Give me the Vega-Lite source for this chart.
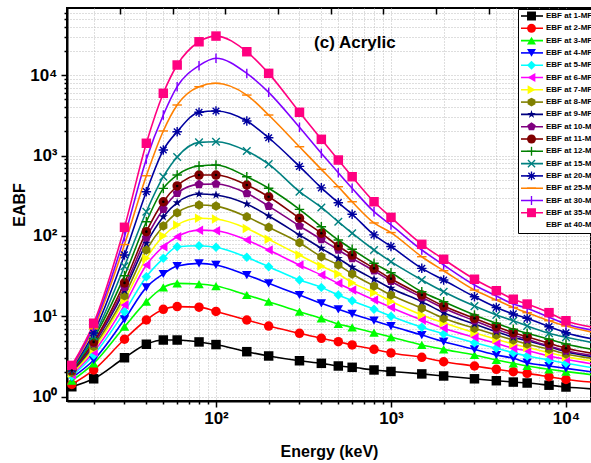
{
"$schema":"https://vega.github.io/schema/vega-lite/v6.json",
"autosize":{"type":"none"},
"padding":{"left":67,"top":8,"right":0,"bottom":62},
"width":524,"height":393,
"config":{"font":"Liberation Sans","view":{"stroke":"black","strokeWidth":2}},
"datasets":{
"t":[{"e":622,"v":25300,"label":"(c) Acrylic"}],
"d":[
{"m":"1","e":15,"v":1.33},{"m":"1","e":20,"v":1.67},{"m":"1","e":30,"v":3.05},{"m":"1","e":40,"v":4.49},{"m":"1","e":50,"v":5.07},{"m":"1","e":60,"v":5.07},{"m":"1","e":80,"v":4.8},{"m":"1","e":100,"v":4.45},{"m":"1","e":150,"v":3.63},{"m":"1","e":200,"v":3.21},{"m":"1","e":300,"v":2.8},{"m":"1","e":400,"v":2.6},{"m":"1","e":500,"v":2.41},{"m":"1","e":600,"v":2.32},{"m":"1","e":800,"v":2.15},{"m":"1","e":1000,"v":2.06},{"m":"1","e":1500,"v":1.92},{"m":"1","e":2000,"v":1.81},{"m":"1","e":3000,"v":1.67},{"m":"1","e":4000,"v":1.58},{"m":"1","e":5000,"v":1.52},{"m":"1","e":6000,"v":1.48},{"m":"1","e":8000,"v":1.39},{"m":"1","e":10000,"v":1.32},{"m":"1","e":15000,"v":1.24},
{"m":"2","e":15,"v":1.42},{"m":"2","e":20,"v":2.15},{"m":"2","e":30,"v":5.18},{"m":"2","e":40,"v":9.0},{"m":"2","e":50,"v":12.2},{"m":"2","e":60,"v":13.2},{"m":"2","e":80,"v":13.0},{"m":"2","e":100,"v":11.5},{"m":"2","e":150,"v":9.0},{"m":"2","e":200,"v":7.57},{"m":"2","e":300,"v":6.15},{"m":"2","e":400,"v":5.32},{"m":"2","e":500,"v":4.83},{"m":"2","e":600,"v":4.4},{"m":"2","e":800,"v":3.88},{"m":"2","e":1000,"v":3.5},{"m":"2","e":1500,"v":3.09},{"m":"2","e":2000,"v":2.72},{"m":"2","e":3000,"v":2.41},{"m":"2","e":4000,"v":2.19},{"m":"2","e":5000,"v":2.05},{"m":"2","e":6000,"v":1.95},{"m":"2","e":8000,"v":1.77},{"m":"2","e":10000,"v":1.64},{"m":"2","e":15000,"v":1.5},
{"m":"3","e":15,"v":1.58},{"m":"3","e":20,"v":2.6},{"m":"3","e":30,"v":7.43},{"m":"3","e":40,"v":15.2},{"m":"3","e":50,"v":22.9},{"m":"3","e":60,"v":25.7},{"m":"3","e":80,"v":25.2},{"m":"3","e":100,"v":23.8},{"m":"3","e":150,"v":18.4},{"m":"3","e":200,"v":15.2},{"m":"3","e":300,"v":11.4},{"m":"3","e":400,"v":9.44},{"m":"3","e":500,"v":8.02},{"m":"3","e":600,"v":7.3},{"m":"3","e":800,"v":6.25},{"m":"3","e":1000,"v":5.52},{"m":"3","e":1500,"v":4.4},{"m":"3","e":2000,"v":3.88},{"m":"3","e":3000,"v":3.3},{"m":"3","e":4000,"v":2.86},{"m":"3","e":5000,"v":2.6},{"m":"3","e":6000,"v":2.41},{"m":"3","e":8000,"v":2.19},{"m":"3","e":10000,"v":2.05},{"m":"3","e":15000,"v":1.85},
{"m":"4","e":15,"v":1.72},{"m":"4","e":20,"v":2.86},{"m":"4","e":30,"v":9.18},{"m":"4","e":40,"v":22.9},{"m":"4","e":50,"v":33.6},{"m":"4","e":60,"v":42.2},{"m":"4","e":80,"v":45.6},{"m":"4","e":100,"v":43.5},{"m":"4","e":150,"v":32.6},{"m":"4","e":200,"v":25.7},{"m":"4","e":300,"v":18.4},{"m":"4","e":400,"v":14.5},{"m":"4","e":500,"v":12.2},{"m":"4","e":600,"v":10.7},{"m":"4","e":800,"v":8.81},{"m":"4","e":1000,"v":7.57},{"m":"4","e":1500,"v":5.85},{"m":"4","e":2000,"v":4.83},{"m":"4","e":3000,"v":3.88},{"m":"4","e":4000,"v":3.3},{"m":"4","e":5000,"v":3.0},{"m":"4","e":6000,"v":2.65},{"m":"4","e":8000,"v":2.41},{"m":"4","e":10000,"v":2.25},{"m":"4","e":15000,"v":2.0},
{"m":"5","e":15,"v":1.8},{"m":"5","e":20,"v":3.3},{"m":"5","e":30,"v":11.4},{"m":"5","e":40,"v":31.1},{"m":"5","e":50,"v":52.6},{"m":"5","e":60,"v":73.4},{"m":"5","e":80,"v":75.5},{"m":"5","e":100,"v":72.1},{"m":"5","e":150,"v":54.2},{"m":"5","e":200,"v":41.4},{"m":"5","e":300,"v":28.3},{"m":"5","e":400,"v":22.9},{"m":"5","e":500,"v":18.4},{"m":"5","e":600,"v":15.6},{"m":"5","e":800,"v":12.2},{"m":"5","e":1000,"v":10.0},{"m":"5","e":1500,"v":7.3},{"m":"5","e":2000,"v":6.03},{"m":"5","e":3000,"v":4.7},{"m":"5","e":4000,"v":4.0},{"m":"5","e":5000,"v":3.53},{"m":"5","e":6000,"v":3.21},{"m":"5","e":8000,"v":2.86},{"m":"5","e":10000,"v":2.6},{"m":"5","e":15000,"v":2.25},
{"m":"6","e":15,"v":1.88},{"m":"6","e":20,"v":3.6},{"m":"6","e":30,"v":13.8},{"m":"6","e":40,"v":43.5},{"m":"6","e":50,"v":73.4},{"m":"6","e":60,"v":97.7},{"m":"6","e":80,"v":118},{"m":"6","e":100,"v":116},{"m":"6","e":150,"v":88.9},{"m":"6","e":200,"v":66.8},{"m":"6","e":300,"v":43.5},{"m":"6","e":400,"v":32.6},{"m":"6","e":500,"v":25.7},{"m":"6","e":600,"v":21.2},{"m":"6","e":800,"v":16.0},{"m":"6","e":1000,"v":12.9},{"m":"6","e":1500,"v":9.0},{"m":"6","e":2000,"v":7.1},{"m":"6","e":3000,"v":5.48},{"m":"6","e":4000,"v":4.61},{"m":"6","e":5000,"v":4.0},{"m":"6","e":6000,"v":3.73},{"m":"6","e":8000,"v":3.21},{"m":"6","e":10000,"v":2.92},{"m":"6","e":15000,"v":2.5},
{"m":"7","e":15,"v":1.95},{"m":"7","e":20,"v":3.9},{"m":"7","e":30,"v":16},{"m":"7","e":40,"v":52.6},{"m":"7","e":50,"v":99.7},{"m":"7","e":60,"v":137},{"m":"7","e":80,"v":166},{"m":"7","e":100,"v":162},{"m":"7","e":150,"v":124},{"m":"7","e":200,"v":90.7},{"m":"7","e":300,"v":57.8},{"m":"7","e":400,"v":42.2},{"m":"7","e":500,"v":33.6},{"m":"7","e":600,"v":26.2},{"m":"7","e":800,"v":19.7},{"m":"7","e":1000,"v":15.4},{"m":"7","e":1500,"v":10.4},{"m":"7","e":2000,"v":8.32},{"m":"7","e":3000,"v":6.25},{"m":"7","e":4000,"v":5.18},{"m":"7","e":5000,"v":4.52},{"m":"7","e":6000,"v":4.11},{"m":"7","e":8000,"v":3.53},{"m":"7","e":10000,"v":3.15},{"m":"7","e":15000,"v":2.75},
{"m":"8","e":15,"v":2.0},{"m":"8","e":20,"v":4.2},{"m":"8","e":30,"v":18},{"m":"8","e":40,"v":66.8},{"m":"8","e":50,"v":133},{"m":"8","e":60,"v":194},{"m":"8","e":80,"v":242},{"m":"8","e":100,"v":235},{"m":"8","e":150,"v":173},{"m":"8","e":200,"v":128},{"m":"8","e":300,"v":82.3},{"m":"8","e":400,"v":55.1},{"m":"8","e":500,"v":43.5},{"m":"8","e":600,"v":33.6},{"m":"8","e":800,"v":23.8},{"m":"8","e":1000,"v":18.4},{"m":"8","e":1500,"v":12.6},{"m":"8","e":2000,"v":9.44},{"m":"8","e":3000,"v":7.1},{"m":"8","e":4000,"v":5.85},{"m":"8","e":5000,"v":5.07},{"m":"8","e":6000,"v":4.52},{"m":"8","e":8000,"v":3.88},{"m":"8","e":10000,"v":3.4},{"m":"8","e":15000,"v":2.95},
{"m":"9","e":15,"v":2.05},{"m":"9","e":20,"v":4.5},{"m":"9","e":30,"v":21},{"m":"9","e":40,"v":81},{"m":"9","e":50,"v":173},{"m":"9","e":60,"v":259},{"m":"9","e":80,"v":332},{"m":"9","e":100,"v":323},{"m":"9","e":150,"v":249},{"m":"9","e":200,"v":177},{"m":"9","e":300,"v":103},{"m":"9","e":400,"v":70.1},{"m":"9","e":500,"v":52.6},{"m":"9","e":600,"v":40.7},{"m":"9","e":800,"v":28.9},{"m":"9","e":1000,"v":22.3},{"m":"9","e":1500,"v":15.2},{"m":"9","e":2000,"v":11.1},{"m":"9","e":3000,"v":8.02},{"m":"9","e":4000,"v":6.43},{"m":"9","e":5000,"v":5.48},{"m":"9","e":6000,"v":4.97},{"m":"9","e":8000,"v":4.19},{"m":"9","e":10000,"v":3.63},{"m":"9","e":15000,"v":3.1},
{"m":"10","e":15,"v":2.1},{"m":"10","e":20,"v":4.6},{"m":"10","e":30,"v":23},{"m":"10","e":40,"v":95},{"m":"10","e":50,"v":215},{"m":"10","e":60,"v":340},{"m":"10","e":80,"v":438},{"m":"10","e":100,"v":442},{"m":"10","e":150,"v":339},{"m":"10","e":200,"v":235},{"m":"10","e":300,"v":133},{"m":"10","e":400,"v":90.7},{"m":"10","e":500,"v":66.8},{"m":"10","e":600,"v":52.6},{"m":"10","e":800,"v":36.9},{"m":"10","e":1000,"v":27.3},{"m":"10","e":1500,"v":17.2},{"m":"10","e":2000,"v":12.6},{"m":"10","e":3000,"v":8.81},{"m":"10","e":4000,"v":6.89},{"m":"10","e":5000,"v":5.85},{"m":"10","e":6000,"v":5.18},{"m":"10","e":8000,"v":4.27},{"m":"10","e":10000,"v":3.73},{"m":"10","e":15000,"v":3.2},
{"m":"11","e":15,"v":2.12},{"m":"11","e":20,"v":4.8},{"m":"11","e":30,"v":26},{"m":"11","e":40,"v":113},{"m":"11","e":50,"v":266},{"m":"11","e":60,"v":418},{"m":"11","e":80,"v":572},{"m":"11","e":100,"v":572},{"m":"11","e":150,"v":430},{"m":"11","e":200,"v":307},{"m":"11","e":300,"v":166},{"m":"11","e":400,"v":108},{"m":"11","e":500,"v":74.9},{"m":"11","e":600,"v":57.8},{"m":"11","e":800,"v":39.5},{"m":"11","e":1000,"v":29.3},{"m":"11","e":1500,"v":18.4},{"m":"11","e":2000,"v":13.4},{"m":"11","e":3000,"v":9.44},{"m":"11","e":4000,"v":7.43},{"m":"11","e":5000,"v":6.25},{"m":"11","e":6000,"v":5.57},{"m":"11","e":8000,"v":4.61},{"m":"11","e":10000,"v":4.0},{"m":"11","e":15000,"v":3.4},
{"m":"12","e":15,"v":2.15},{"m":"12","e":20,"v":5.3},{"m":"12","e":30,"v":32},{"m":"12","e":40,"v":150},{"m":"12","e":50,"v":390},{"m":"12","e":60,"v":572},{"m":"12","e":80,"v":740},{"m":"12","e":100,"v":762},{"m":"12","e":150,"v":545},{"m":"12","e":200,"v":391},{"m":"12","e":300,"v":214},{"m":"12","e":400,"v":130},{"m":"12","e":500,"v":88.9},{"m":"12","e":600,"v":68.1},{"m":"12","e":800,"v":45.6},{"m":"12","e":1000,"v":34.8},{"m":"12","e":1500,"v":20.2},{"m":"12","e":2000,"v":15.2},{"m":"12","e":3000,"v":10.4},{"m":"12","e":4000,"v":8.19},{"m":"12","e":5000,"v":6.89},{"m":"12","e":6000,"v":6.15},{"m":"12","e":8000,"v":5.18},{"m":"12","e":10000,"v":4.52},{"m":"12","e":15000,"v":3.8},
{"m":"15","e":15,"v":2.2},{"m":"15","e":20,"v":5.6},{"m":"15","e":30,"v":42},{"m":"15","e":40,"v":200},{"m":"15","e":50,"v":545},{"m":"15","e":60,"v":960},{"m":"15","e":80,"v":1459},{"m":"15","e":100,"v":1485},{"m":"15","e":150,"v":1137},{"m":"15","e":200,"v":781},{"m":"15","e":300,"v":355},{"m":"15","e":400,"v":226},{"m":"15","e":500,"v":150},{"m":"15","e":600,"v":108},{"m":"15","e":800,"v":66.8},{"m":"15","e":1000,"v":47.8},{"m":"15","e":1500,"v":28.3},{"m":"15","e":2000,"v":20.2},{"m":"15","e":3000,"v":13.4},{"m":"15","e":4000,"v":10.4},{"m":"15","e":5000,"v":8.81},{"m":"15","e":6000,"v":7.57},{"m":"15","e":8000,"v":6.15},{"m":"15","e":10000,"v":5.48},{"m":"15","e":15000,"v":4.6},
{"m":"20","e":15,"v":2.25},{"m":"20","e":20,"v":6.2},{"m":"20","e":30,"v":58},{"m":"20","e":40,"v":355},{"m":"20","e":50,"v":1170},{"m":"20","e":60,"v":1977},{"m":"20","e":80,"v":3445},{"m":"20","e":100,"v":3575},{"m":"20","e":150,"v":2685},{"m":"20","e":200,"v":1664},{"m":"20","e":300,"v":733},{"m":"20","e":400,"v":396},{"m":"20","e":500,"v":259},{"m":"20","e":600,"v":186},{"m":"20","e":800,"v":103},{"m":"20","e":1000,"v":74},{"m":"20","e":1500,"v":39.5},{"m":"20","e":2000,"v":28.3},{"m":"20","e":3000,"v":17.5},{"m":"20","e":4000,"v":12.9},{"m":"20","e":5000,"v":10.7},{"m":"20","e":6000,"v":9.44},{"m":"20","e":8000,"v":7.43},{"m":"20","e":10000,"v":6.25},{"m":"20","e":15000,"v":5.1},
{"m":"25","e":15,"v":2.3},{"m":"25","e":20,"v":7.0},{"m":"25","e":30,"v":78},{"m":"25","e":40,"v":560},{"m":"25","e":50,"v":2020},{"m":"25","e":60,"v":4250},{"m":"25","e":80,"v":7180},{"m":"25","e":100,"v":7910},{"m":"25","e":150,"v":5650},{"m":"25","e":200,"v":3190},{"m":"25","e":300,"v":1286},{"m":"25","e":400,"v":673},{"m":"25","e":500,"v":409},{"m":"25","e":600,"v":266},{"m":"25","e":800,"v":145},{"m":"25","e":1000,"v":110},{"m":"25","e":1500,"v":55.1},{"m":"25","e":2000,"v":36.9},{"m":"25","e":3000,"v":21.2},{"m":"25","e":4000,"v":16},{"m":"25","e":5000,"v":12.9},{"m":"25","e":6000,"v":11.1},{"m":"25","e":8000,"v":8.81},{"m":"25","e":10000,"v":7.57},{"m":"25","e":15000,"v":6.2},
{"m":"30","e":15,"v":2.38},{"m":"30","e":20,"v":7.6},{"m":"30","e":30,"v":98},{"m":"30","e":40,"v":900},{"m":"30","e":50,"v":3190},{"m":"30","e":60,"v":7180},{"m":"30","e":80,"v":13100},{"m":"30","e":100,"v":16200},{"m":"30","e":150,"v":10500},{"m":"30","e":200,"v":6110},{"m":"30","e":300,"v":2244},{"m":"30","e":400,"v":1065},{"m":"30","e":500,"v":611},{"m":"30","e":600,"v":391},{"m":"30","e":800,"v":200},{"m":"30","e":1000,"v":137},{"m":"30","e":1500,"v":66.8},{"m":"30","e":2000,"v":43.5},{"m":"30","e":3000,"v":24.5},{"m":"30","e":4000,"v":17.9},{"m":"30","e":5000,"v":14.2},{"m":"30","e":6000,"v":12.6},{"m":"30","e":8000,"v":9.72},{"m":"30","e":10000,"v":8.02},{"m":"30","e":15000,"v":6.6},
{"m":"35","e":15,"v":2.45},{"m":"35","e":20,"v":8.2},{"m":"35","e":30,"v":128},{"m":"35","e":40,"v":1420},{"m":"35","e":50,"v":5940},{"m":"35","e":60,"v":13360},{"m":"35","e":80,"v":26000},{"m":"35","e":100,"v":30600},{"m":"35","e":150,"v":19550},{"m":"35","e":200,"v":10520},{"m":"35","e":300,"v":3450},{"m":"35","e":400,"v":1590},{"m":"35","e":500,"v":879},{"m":"35","e":600,"v":545},{"m":"35","e":800,"v":266},{"m":"35","e":1000,"v":170},{"m":"35","e":1500,"v":78.6},{"m":"35","e":2000,"v":51.2},{"m":"35","e":3000,"v":28.9},{"m":"35","e":4000,"v":20.8},{"m":"35","e":5000,"v":16.3},{"m":"35","e":6000,"v":14.2},{"m":"35","e":8000,"v":11.1},{"m":"35","e":10000,"v":8.81},{"m":"35","e":15000,"v":7.2}
]},
"layer":[
{"data":{"name":"d"},
 "mark":{"type":"line","interpolate":"monotone","strokeWidth":1.6,"clip":true},
 "encoding":{
  "x":{"field":"e","type":"quantitative","scale":{"type":"log","domain":[14.08,13900]},
   "axis":{"orient":"bottom","values":[20,30,40,50,60,70,80,90,100,200,300,400,500,600,700,800,900,1000,2000,3000,4000,5000,6000,7000,8000,9000,10000],
    "labelExpr":"datum.value==100?'10²':datum.value==1000?'10³':datum.value==10000?'10⁴':''",
    "tickSize":{"condition":{"test":"datum.value==100||datum.value==1000||datum.value==10000","value":6},"value":3},
    "tickWidth":1.5,"tickColor":"black","domainColor":"black","domainWidth":2,
    "grid":true,"gridColor":"#bcbcbc","gridDash":[1,2],"gridWidth":1,
    "labelFontSize":17,"labelFontWeight":"bold","labelColor":"black","labelPadding":3,"labelFlush":false,"labelOverlap":false,"labelBound":false,
    "title":"Energy (keV)","titleFontSize":16,"titleFontWeight":"bold","titleColor":"black","titlePadding":17}},
  "y":{"field":"v","type":"quantitative","scale":{"type":"log","domain":[0.884,68400]},
   "axis":{"values":[1,2,3,4,5,6,7,8,9,10,20,30,40,50,60,70,80,90,100,200,300,400,500,600,700,800,900,1000,2000,3000,4000,5000,6000,7000,8000,9000,10000,20000,30000,40000,50000,60000],
    "labelExpr":"datum.value==1?'10⁰':datum.value==10?'10¹':datum.value==100?'10²':datum.value==1000?'10³':datum.value==10000?'10⁴':''",
    "tickSize":{"condition":{"test":"datum.value==1||datum.value==10||datum.value==100||datum.value==1000||datum.value==10000","value":6},"value":3},
    "tickWidth":1.5,"tickColor":"black","domainColor":"black","domainWidth":2,
    "grid":true,"gridColor":"#bcbcbc","gridDash":[1,2],"gridWidth":1,
    "labelFontSize":17,"labelFontWeight":"bold","labelColor":"black","labelPadding":4,"labelFlush":false,"labelOverlap":false,"labelBound":false,
    "title":"EABF","titleFontSize":16,"titleFontWeight":"bold","titleColor":"black","titlePadding":2}},
  "stroke":{"field":"m","type":"nominal",
   "scale":{"domain":["1","2","3","4","5","6","7","8","9","10","11","12","15","20","25","30","35","40"],
     "range":["#000000","#FF0000","#00FF00","#0000FF","#00FFFF","#FF00FF","#FFFF00","#808000","#000080","#800080","#800000","#008000","#008080","#0000A0","#FF8000","#8000FF","#FF0080","#FFFFFF"]},
   "legend":{"orient":"none","legendX":451,"legendY":1,"title":null,"symbolType":"stroke","symbolSize":484,"symbolStrokeWidth":1.6,
     "labelFontSize":8,"labelFontWeight":"bold","labelColor":"black","labelExpr":"'EBF at ' + datum.label + '-MFP'","labelOffset":2,"labelLimit":0,
     "strokeColor":"black","fillColor":"white","padding":2,"rowPadding":2.3,"clipHeight":10,"zindex":0}}
 }},
{"data":{"name":"d"},
 "mark":{"type":"point","filled":true,"size":90,"opacity":1,"clip":true},
 "encoding":{
  "x":{"field":"e","type":"quantitative","scale":{"type":"log","domain":[14.08,13900]},
   "axis":{"orient":"top","offset":-6,"values":[28.3,56.6,113,226,453,906,1812,3625,7250],"labels":false,"domain":false,"grid":false,"tickSize":6,"tickWidth":1.5,"tickColor":"black","title":null}},
  "y":{"field":"v","type":"quantitative","scale":{"type":"log","domain":[0.884,68400]},"axis":null},
  "fill":{"field":"m","type":"nominal",
   "scale":{"domain":["1","2","3","4","5","6","7","8","9","10","11","12","15","20","25","30","35"],
     "range":["#000000","#FF0000","#00FF00","#0000FF","#00FFFF","#FF00FF","#FFFF00","#808000","#000080","#800080","#800000","#008000","#008080","#0000A0","#FF8000","#8000FF","#FF0080"]},
   "legend":{"orient":"none","legendX":458,"legendY":1,"title":null,"symbolSize":80,"labelExpr":"''","labelFontSize":8,"padding":2,"rowPadding":2.3,"clipHeight":10,"zindex":1,"symbolStrokeWidth":0}},
  "shape":{"field":"m","type":"nominal",
   "scale":{"domain":["1","2","3","4","5","6","7","8","9","10","11","12","15","20","25","30","35"],
     "range":["square","circle","triangle-up","triangle-down","diamond","triangle-left","triangle-right",
       "M0,-1L0.866,-0.5L0.866,0.5L0,1L-0.866,0.5L-0.866,-0.5Z",
       "M0,-1L0.2234,-0.3074L0.9511,-0.309L0.3614,0.1174L0.5878,0.809L0,0.38L-0.5878,0.809L-0.3614,0.1174L-0.9511,-0.309L-0.2234,-0.3074Z",
       "M0,-1L0.9511,-0.309L0.5878,0.809L-0.5878,0.809L-0.9511,-0.309Z",
       "circle",
       "M-1,-0.15H-0.15V-1H0.15V-0.15H1V0.15H0.15V1H-0.15V0.15H-1Z",
       "M-0.694,-0.906L0.906,0.694L0.694,0.906L-0.906,-0.694ZM-0.694,0.906L-0.906,0.694L0.694,-0.906L0.906,-0.694Z",
       "M-1,-0.15H-0.15V-1H0.15V-0.15H1V0.15H0.15V1H-0.15V0.15H-1ZM-0.594,-0.806L0.806,0.594L0.594,0.806L-0.806,-0.594ZM-0.594,0.806L-0.806,0.594L0.594,-0.806L0.806,-0.594Z",
       "M-1,-0.15H1V0.15H-1Z",
       "M-0.15,-1H0.15V1H-0.15Z",
       "square"]},
   "legend":{"orient":"none","legendX":458,"legendY":1,"title":null,"symbolSize":80,"labelExpr":"''","labelFontSize":8,"padding":2,"rowPadding":2.3,"clipHeight":10,"zindex":1,"symbolStrokeWidth":0}}
 }},
{"data":{"name":"d"},"transform":[{"filter":"datum.m=='11'"}],
 "mark":{"type":"point","filled":true,"size":7,"color":"black","opacity":1,"clip":true},
 "encoding":{
  "x":{"field":"e","type":"quantitative","scale":{"type":"log","domain":[14.08,13900]},"axis":null},
  "y":{"field":"v","type":"quantitative","scale":{"type":"log","domain":[0.884,68400]},"axis":null}}},
{"data":{"name":"t"},
 "mark":{"type":"text","fontSize":17,"fontWeight":"bold","color":"black","align":"center","baseline":"middle"},
 "encoding":{
  "x":{"field":"e","type":"quantitative","scale":{"type":"log","domain":[14.08,13900]},"axis":null},
  "y":{"field":"v","type":"quantitative","scale":{"type":"log","domain":[0.884,68400]},"axis":null},
  "text":{"field":"label"}}}
],
"resolve":{"axis":{"x":"independent","y":"independent"}}
}
